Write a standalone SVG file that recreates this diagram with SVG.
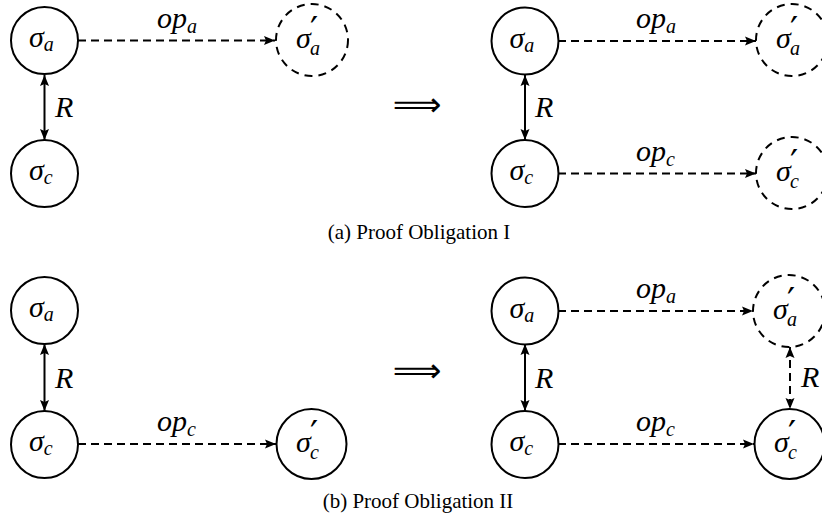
<svg xmlns="http://www.w3.org/2000/svg" width="822" height="522" viewBox="0 0 822 522">
<style>
.n{fill:#fff;stroke:#000;stroke-width:2}
.d{fill:#fff;stroke:#000;stroke-width:2;stroke-dasharray:8 6}
.m{font-family:"Liberation Serif","Times New Roman",serif;font-style:italic;font-size:30px;fill:#000}
.s{font-size:20px}
.p{font-family:"DejaVu Sans",sans-serif;font-style:normal;font-size:36px}
.e{stroke:#000;stroke-width:2;fill:none}
.dl{stroke-dasharray:8 5}
.cap{font-family:"Liberation Serif","Times New Roman",serif;font-size:21px;fill:#000;text-anchor:middle}
.imp{font-family:"DejaVu Sans",sans-serif;font-size:34px;fill:#000;text-anchor:middle}
</style>
<defs>
<marker id="ah" viewBox="0 0 11 10" refX="11" refY="5" markerWidth="11" markerHeight="10" markerUnits="userSpaceOnUse" orient="auto-start-reverse">
<path d="M0,0.5 L11,5 L0,9.5 L2,5 z" fill="#000"/>
</marker>
</defs>
<g id="connectors">
<line class="e dl" x1="78" y1="40.5" x2="275" y2="40.5" marker-end="url(#ah)"/>
<line class="e" x1="44.5" y1="75" x2="44.5" y2="140" marker-start="url(#ah)" marker-end="url(#ah)"/>
<line class="e dl" x1="558" y1="41" x2="756" y2="41" marker-end="url(#ah)"/>
<line class="e" x1="525" y1="75" x2="525" y2="140" marker-start="url(#ah)" marker-end="url(#ah)"/>
<line class="e dl" x1="558" y1="173.5" x2="756" y2="173.5" marker-end="url(#ah)"/>
<line class="e" x1="44.5" y1="344" x2="44.5" y2="411" marker-start="url(#ah)" marker-end="url(#ah)"/>
<line class="e dl" x1="78" y1="444" x2="276" y2="444" marker-end="url(#ah)"/>
<line class="e dl" x1="558" y1="311" x2="753" y2="311" marker-end="url(#ah)"/>
<line class="e" x1="525" y1="344" x2="525" y2="411" marker-start="url(#ah)" marker-end="url(#ah)"/>
<line class="e dl" x1="558" y1="444" x2="754" y2="444" marker-end="url(#ah)"/>
<line class="e dl" x1="790" y1="347" x2="790" y2="409" marker-start="url(#ah)" marker-end="url(#ah)"/>
<text class="m" x="157" y="27.5">op<tspan class="s" dy="5">a</tspan></text>
<text class="m" x="55" y="117">R</text>
<text class="m" x="636" y="28">op<tspan class="s" dy="5">a</tspan></text>
<text class="m" x="535" y="117">R</text>
<text class="m" x="636" y="160.5">op<tspan class="s" dy="5">c</tspan></text>
<text class="m" x="55" y="388">R</text>
<text class="m" x="157" y="431">op<tspan class="s" dy="5">c</tspan></text>
<text class="m" x="636" y="298">op<tspan class="s" dy="5">a</tspan></text>
<text class="m" x="535" y="388">R</text>
<text class="m" x="636" y="431">op<tspan class="s" dy="5">c</tspan></text>
<text class="m" x="801" y="387">R</text>
</g>
<text class="imp" x="417" y="116">⟹</text>
<text class="imp" x="417" y="382">⟹</text>
<g id="a-sa1"><circle class="n" cx="44.5" cy="40.5" r="33.5"/><text class="m" x="29" y="47">σ<tspan class="s" dy="4">a</tspan></text></g>
<g id="a-sc1"><circle class="n" cx="44.5" cy="173.5" r="33.5"/><text class="m" x="29" y="180">σ<tspan class="s" dy="4">c</tspan></text></g>
<g id="a-sa1p"><circle class="d" cx="312" cy="40" r="36"/><text class="m" x="296" y="48">σ<tspan class="p" x="310" y="42">′</tspan><tspan class="s" x="310" y="55">a</tspan></text></g>
<g id="a-sa2"><circle class="n" cx="525" cy="41" r="33.5"/><text class="m" x="509.5" y="47.5">σ<tspan class="s" dy="4">a</tspan></text></g>
<g id="a-sc2"><circle class="n" cx="525" cy="173.5" r="33.5"/><text class="m" x="509.5" y="180">σ<tspan class="s" dy="4">c</tspan></text></g>
<g id="a-sa2p"><circle class="d" cx="792" cy="40" r="36"/><text class="m" x="776" y="48">σ<tspan class="p" x="790" y="42">′</tspan><tspan class="s" x="790" y="55">a</tspan></text></g>
<g id="a-sc2p"><circle class="d" cx="792" cy="173" r="36"/><text class="m" x="776" y="181">σ<tspan class="p" x="790" y="175">′</tspan><tspan class="s" x="790" y="188">c</tspan></text></g>
<text class="cap" x="419" y="239">(a) Proof Obligation I</text>
<g id="b-sa1"><circle class="n" cx="44.5" cy="310.5" r="33.5"/><text class="m" x="29" y="317">σ<tspan class="s" dy="4">a</tspan></text></g>
<g id="b-sc1"><circle class="n" cx="44.5" cy="444.5" r="33.5"/><text class="m" x="29" y="451">σ<tspan class="s" dy="4">c</tspan></text></g>
<g id="b-sc1p"><circle class="n" cx="311.5" cy="444" r="35"/><text class="m" x="296" y="452">σ<tspan class="p" x="310" y="446">′</tspan><tspan class="s" x="310" y="459">c</tspan></text></g>
<g id="b-sa2"><circle class="n" cx="525" cy="311" r="33.5"/><text class="m" x="509.5" y="317.5">σ<tspan class="s" dy="4">a</tspan></text></g>
<g id="b-sc2"><circle class="n" cx="525" cy="444.5" r="33.5"/><text class="m" x="509.5" y="451">σ<tspan class="s" dy="4">c</tspan></text></g>
<g id="b-sa2p"><circle class="d" cx="789" cy="311" r="36"/><text class="m" x="773" y="319">σ<tspan class="p" x="787" y="313">′</tspan><tspan class="s" x="787" y="326">a</tspan></text></g>
<g id="b-sc2p"><circle class="n" cx="789.5" cy="444" r="35"/><text class="m" x="774" y="452">σ<tspan class="p" x="788" y="446">′</tspan><tspan class="s" x="788" y="459">c</tspan></text></g>
<text class="cap" x="418" y="508">(b) Proof Obligation II</text>
</svg>
